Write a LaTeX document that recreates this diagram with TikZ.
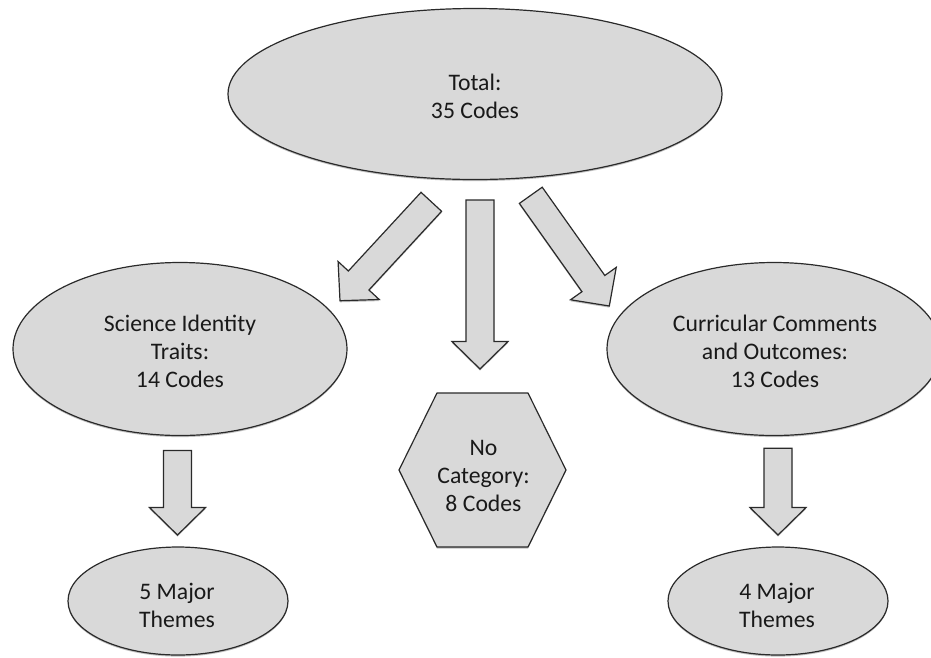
\documentclass[tikz,border=0pt]{standalone}
\usepackage{fontspec}
\setmainfont{Carlito}
\usetikzlibrary{shapes.geometric,calc,shadows}
\definecolor{shapefill}{HTML}{D9D9D9}
\definecolor{shapeline}{HTML}{2A2A2A}
\tikzset{
  shapebase/.style={fill=shapefill, draw=shapeline, line width=1.2pt,
    drop shadow={shadow xshift=0pt, shadow yshift=-1.6pt, opacity=0.35, fill=black!70}},
  txt/.style={align=center, inner sep=0pt, text=black!90,
    font=\fontsize{23.7}{28}\selectfont},
  oval/.style={shapebase, txt, ellipse},
  barrow/.style={shapebase, line join=miter},
}
\newcommand\blockarr[2]{%
  \coordinate (hb) at ($(#2)!27.5pt!(#1)$);
  \draw[barrow] ($(#1)!14pt!90:(#2)$) -- ($(hb)!14pt!-90:(#1)$)
    -- ($(hb)!28pt!-90:(#1)$) -- (#2) -- ($(hb)!28pt!90:(#1)$)
    -- ($(hb)!14pt!90:(#1)$) -- ($(#1)!14pt!-90:(#2)$) -- cycle;}
\begin{document}
\begin{tikzpicture}[x=1pt,y=-1pt]
\useasboundingbox (0,0) rectangle (931,657);
\clip (0,0) rectangle (931,657);

% main nodes
\node[oval, minimum width=494pt, minimum height=171pt] (total) at (475,94) {};
\node[txt] (totalt) at (475,96) {Total:\\35 Codes};
\node[oval, minimum width=334pt, minimum height=173pt] (sci) at (180,349) {};
\node[txt] (scit) at (180,351) {Science Identity\\Traits:\\14 Codes};
\node[oval, minimum width=334pt, minimum height=173pt] (cur) at (774,349) {};
\node[txt] (curt) at (775,351) {Curricular Comments\\and Outcomes:\\13 Codes};
\node[oval, minimum width=220pt, minimum height=108pt] (th5) at (178,601) {};
\node[txt] (th5t) at (177,605) {5 Major\\Themes};
\node[oval, minimum width=220pt, minimum height=108pt] (th4) at (778,601) {};
\node[txt] (th4t) at (777,605) {4 Major\\Themes};

% hexagon
\coordinate (hc) at (482.5,470);
\draw[shapebase, line join=round] ($(hc)+(-83.5,0)$) -- ($(hc)+(-45.5,-77)$) -- ($(hc)+(45.5,-77)$)
  -- ($(hc)+(83.5,0)$) -- ($(hc)+(45.5,77)$) -- ($(hc)+(-45.5,77)$) -- cycle;
\node[txt] (nocat) at ($(hc)+(1,6)$) {No\\Category:\\8 Codes};

% block arrows
\coordinate (a1s) at (431.3,201.8); \coordinate (a1e) at (340,300.7);
\coordinate (a2s) at (480,200);     \coordinate (a2e) at (480,369);
\coordinate (a3s) at (530.8,195.3); \coordinate (a3e) at (609.3,306);
\coordinate (a4s) at (177.5,450.5); \coordinate (a4e) at (177.5,535);
\coordinate (a5s) at (778,448.3);   \coordinate (a5e) at (778,535);
\blockarr{a1s}{a1e}
\blockarr{a2s}{a2e}
\blockarr{a3s}{a3e}
\blockarr{a4s}{a4e}
\blockarr{a5s}{a5e}
\end{tikzpicture}
\end{document}
